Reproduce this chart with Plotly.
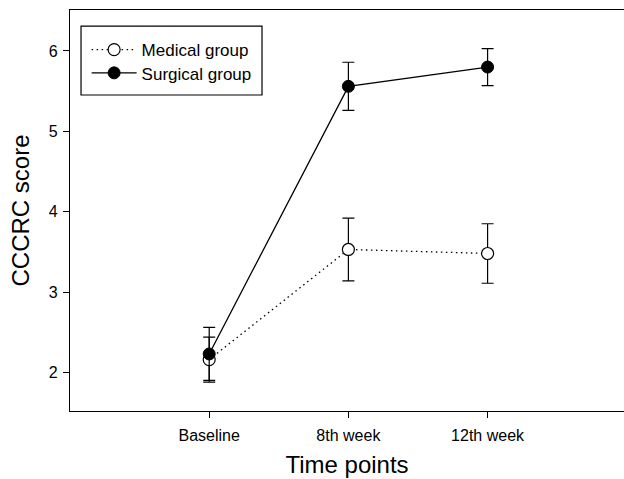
import plotly.graph_objects as go

categories = ["Baseline", "8th week", "12th week"]
x_pos = [1, 2, 3]
medical_mean = [2.16, 3.53, 3.48]
medical_err = [0.28, 0.39, 0.37]
surgical_mean = [2.23, 5.56, 5.80]
surgical_err = [0.33, 0.30, 0.23]
y_ticks = [2, 3, 4, 5, 6]

FONT = "Liberation Sans, Arial, sans-serif"

fig = go.Figure()
fig.add_trace(go.Scatter(
    x=x_pos, y=medical_mean, name="Medical group", mode="lines+markers",
    line=dict(color="black", width=1.3, dash="1.5px,3.5px"),
    marker=dict(symbol="circle", size=12, color="white", line=dict(color="black", width=1.2)),
    error_y=dict(type="data", array=medical_err, visible=True, color="black", thickness=1.2, width=6),
    legend="legend",
))
fig.add_trace(go.Scatter(
    x=x_pos, y=surgical_mean, name="Surgical group", mode="lines+markers",
    line=dict(color="black", width=1.3),
    marker=dict(symbol="circle", size=12, color="black", line=dict(color="black", width=1)),
    error_y=dict(type="data", array=surgical_err, visible=True, color="black", thickness=1.2, width=6),
    legend="legend2",
))

# legend frame (paper coordinates)
fig.add_shape(type="rect", xref="paper", yref="paper",
              x0=0.0199, x1=0.3466, y0=0.788, y1=0.960,
              line=dict(color="black", width=1.2), fillcolor="rgba(0,0,0,0)", layer="above")

legend_style = dict(
    xanchor="left", yanchor="top",
    borderwidth=0, bgcolor="rgba(0,0,0,0)",
    font=dict(size=17, family=FONT), tracegroupgap=0, itemwidth=45,
)

fig.update_layout(
    width=624, height=479,
    margin=dict(l=70, r=0, t=10, b=68, autoexpand=False),
    paper_bgcolor="white", plot_bgcolor="white",
    font=dict(family=FONT, color="black"),
    showlegend=True,
    legend=dict(x=0.03, y=0.945, **legend_style),
    legend2=dict(x=0.03, y=0.887, **legend_style),
    xaxis=dict(
        range=[0, 3.98], tickvals=x_pos, ticktext=categories,
        showline=True, linecolor="black", linewidth=1.3, mirror=True,
        ticks="outside", ticklen=6, tickcolor="black",
        showgrid=False, zeroline=False, automargin=False,
        tickfont=dict(size=16), ticklabelstandoff=4,
        title=dict(text="Time points", font=dict(size=24), standoff=12),
    ),
    yaxis=dict(
        range=[1.52, 6.51], tickvals=y_ticks,
        showline=True, linecolor="black", linewidth=1.3, mirror=False,
        ticks="outside", ticklen=6, tickcolor="black",
        showgrid=False, zeroline=False, automargin=False,
        tickfont=dict(size=16), ticklabelstandoff=2,
        title=dict(text="CCCRC score", font=dict(size=24), standoff=12),
    ),
)

fig.write_html(
    "out.html",
    config={"responsive": False, "displayModeBar": False},
    post_script="document.body.style.margin='0';document.body.style.overflow='hidden';",
)
